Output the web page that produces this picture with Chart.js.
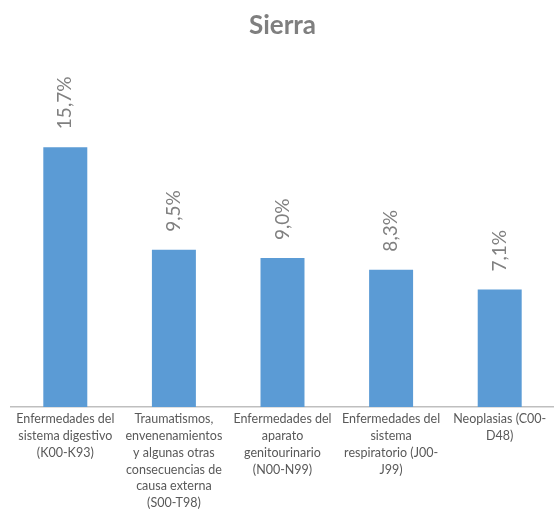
<!DOCTYPE html>
<html>
<head>
<meta charset="utf-8">
<script src="https://cdn.jsdelivr.net/npm/chart.js@4/dist/chart.umd.min.js"></script>
<style>
  html, body { margin: 0; padding: 0; background: #fff; }
  #wrap { width: 554px; height: 522px; }
</style>
</head>
<body>
<div id="wrap"><canvas id="myChart"></canvas></div>
<script>
var categories = [
    ["Enfermedades del", "sistema digestivo", "(K00-K93)"],
    ["Traumatismos,", "envenenamientos", "y algunas otras", "consecuencias de", "causa externa", "(S00-T98)"],
    ["Enfermedades del", "aparato", "genitourinario", "(N00-N99)"],
    ["Enfermedades del", "sistema", "respiratorio (J00-", "J99)"],
    ["Neoplasias (C00-", "D48)"]
];
var values = [15.7, 9.5, 9.0, 8.3, 7.1];
var valueLabels = ["15,7%", "9,5%", "9,0%", "8,3%", "7,1%"];

// etiquetas verticales encima de cada barra
var vLabels = {
    id: 'vLabels',
    afterDatasetsDraw: function(chart) {
        var ctx = chart.ctx;
        var meta = chart.getDatasetMeta(0);
        ctx.save();
        ctx.fillStyle = '#808080';
        ctx.font = '19px Lato, "DejaVu Sans", sans-serif';
        ctx.textBaseline = 'middle';
        ctx.textAlign = 'left';
        meta.data.forEach(function(bar, i) {
            ctx.save();
            ctx.translate(bar.x, bar.y - 18);
            ctx.rotate(-Math.PI / 2);
            ctx.fillText(valueLabels[i], 0, 0);
            ctx.restore();
        });
        ctx.restore();
    }
};

var ctx = document.getElementById('myChart').getContext('2d');
var myChart = new Chart(ctx, {
    type: 'bar',
    data: {
        labels: categories,
        datasets: [{
            data: values,
            backgroundColor: '#5b9bd5',
            categoryPercentage: 1,
            barPercentage: 0.405
        }]
    },
    options: {
        responsive: true,
        maintainAspectRatio: false,
        animation: false,
        layout: { padding: { left: 11, right: 0, top: 0, bottom: 0 } },
        scales: {
            y: {
                display: false,
                min: 0,
                max: 20
            },
            x: {
                grid: { display: false, drawTicks: false },
                border: { display: true, color: '#bfbfbf', width: 1.5 },
                ticks: {
                    color: '#595959',
                    font: { family: 'Lato, "DejaVu Sans", sans-serif', size: 12.5, lineHeight: 1.34 },
                    maxRotation: 0,
                    autoSkip: false,
                    padding: 4
                },
                afterFit: function(scale) { scale.height = 115; }
            }
        },
        plugins: {
            legend: { display: false },
            tooltip: { enabled: false },
            title: {
                display: true,
                text: 'Sierra',
                color: '#7f7f7f',
                font: { family: 'Lato, "DejaVu Sans", sans-serif', size: 26, weight: 'bold' },
                padding: { top: 10, bottom: 34.8 }
            }
        }
    },
    plugins: [vLabels]
});
</script>
</body>
</html>
